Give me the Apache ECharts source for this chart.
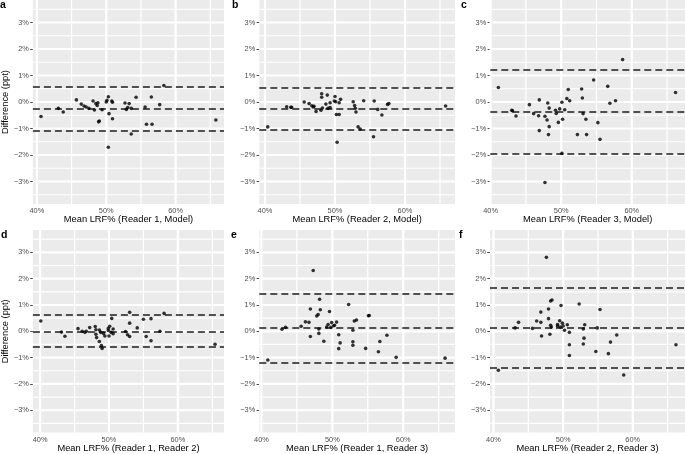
<!DOCTYPE html>
<html><head><meta charset="utf-8">
<script src="https://cdn.jsdelivr.net/npm/echarts@6/dist/echarts.min.js"></script>
<style>html,body{margin:0;padding:0;background:#fff}#c{width:685px;height:454px}</style>
</head><body><div id="c"></div><script>
// ---- data ----
const panelLetters = ['a', 'b', 'c', 'd', 'e', 'f'];
const xTitles = ['Mean LRF% (Reader 1, Model)', 'Mean LRF% (Reader 2, Model)', 'Mean LRF% (Reader 3, Model)',
                 'Mean LRF% (Reader 1, Reader 2)', 'Mean LRF% (Reader 1, Reader 3)', 'Mean LRF% (Reader 2, Reader 3)'];
const yTitle = 'Difference (ppt)';
const xTicks = [40, 50, 60];
const xMinor = [45, 55, 65];
const yTicks = [-3, -2, -1, 0, 1, 2, 3];
const yMinor = [-3.5, -2.5, -1.5, -0.5, 0.5, 1.5, 2.5, 3.5];

const aX = [40.6,43.1,43.8,45.7,46.4,46.8,47.1,47.5,48.1,48.3,48.5,48.8,48.7,49.0,48.9,49.4,50.0,50.1,50.3,50.4,50.8,50.9,50.9,50.3,52.7,52.9,53.1,53.3,53.6,53.6,54.3,55.6,55.8,56.5,56.6,57.7,58.3,65.8];
const aY = [-0.55,-0.24,-0.38,0.08,-0.08,-0.15,-0.19,-0.24,0.04,-0.30,-0.06,-0.03,-0.13,-0.72,-0.75,-0.29,0.0,0.06,0.20,-0.44,0.04,-0.01,-0.63,-1.71,-0.04,-0.28,-0.21,-0.06,-0.24,-1.21,0.18,-0.19,-0.84,0.19,-0.84,-0.10,0.62,-0.68];
const aLines = [0.57, -0.25, -1.07];

const bX = [40.4,43.1,43.7,43.8,45.6,46.3,46.7,46.9,47.0,47.3,48.1,48.1,48.0,48.2,48.7,48.9,49.0,49.3,49.3,49.9,50.0,50.2,50.6,50.8,50.1,50.6,50.3,52.6,52.8,52.9,53.0,53.3,53.6,54.1,55.5,55.6,56.1,56.7,57.5,57.7,65.8];
const bY = [-0.94,-0.18,-0.20,-0.20,0.0,-0.06,-0.14,-0.19,-0.16,-0.36,0.31,0.18,-0.31,-0.23,-0.08,0.26,-0.24,-0.03,-0.21,0.04,0.21,-0.47,-0.47,0.10,0.01,-0.03,-1.52,0.01,-0.13,-0.24,-0.38,-0.94,-1.02,0.05,-1.31,0.04,-0.28,-0.49,-0.09,-0.06,-0.15];
const bLines = [0.54, -0.25, -1.03];

const cX = [41.1,43.0,43.1,43.6,45.5,46.1,46.8,46.9,46.9,47.7,48.0,48.1,48.3,48.3,48.2,47.7,49.2,49.3,49.6,49.8,50.1,50.2,50.1,50.5,50.8,51.0,51.2,52.3,52.9,53.0,53.1,53.5,53.6,54.6,55.2,55.5,56.6,56.9,57.7,58.7,66.2];
const cY = [0.55,-0.31,-0.33,-0.53,-0.10,-0.44,-0.52,0.08,-1.08,-0.54,-0.68,-0.04,-0.23,-0.93,-1.23,-3.04,-0.31,-0.43,-0.77,-0.26,-0.01,-0.65,-1.94,-0.29,0.13,0.47,0.05,-1.23,0.49,0.15,-0.44,-0.65,-1.23,0.83,-0.78,-1.41,0.59,-0.05,0.05,1.60,0.36];
const cLines = [1.20, -0.37, -1.94];

const dX = [40.1,43.1,43.6,45.5,46.1,46.5,46.7,47.2,48.0,48.1,48.1,48.2,48.6,48.8,48.6,48.9,49.0,49.2,49.4,49.9,50.0,50.1,50.3,50.4,50.6,50.6,49.9,52.4,52.7,53.0,53.0,53.0,54.1,55.0,55.4,56.1,56.1,57.4,58.0,65.4];
const dY = [0.39,-0.03,-0.19,0.10,0.0,-0.04,0.0,0.14,0.18,0.06,-0.11,-0.24,0.05,-0.04,-0.39,-0.54,-0.65,-0.08,-0.18,0.03,-0.18,0.19,-0.04,0.49,0.09,-0.09,0.11,-0.01,-0.13,-0.20,0.31,0.72,0.13,0.46,-0.20,0.48,-0.36,0.0,0.68,-0.49];
const dLines = [0.61, 0.0, -0.59];

const eX = [40.9,42.9,43.4,45.6,46.2,46.7,46.9,46.9,47.3,47.8,48.0,48.2,48.3,48.1,48.1,48.8,49.2,49.4,49.6,49.8,49.9,50.2,50.3,50.6,50.9,51.1,50.9,52.3,52.9,52.9,52.9,53.1,53.4,54.7,55.1,55.2,56.5,56.7,57.7,59.0,65.9];
const eY = [-1.09,0.08,0.15,0.19,0.36,0.34,0.85,-0.20,2.31,0.58,0.64,1.22,0.82,0.09,-0.08,-0.38,0.16,0.26,0.75,0.15,0.33,0.21,0.23,0.35,-0.13,-0.44,-0.66,1.02,0.04,-0.40,-0.53,0.39,0.43,-0.65,0.59,0.60,-0.78,-0.39,-0.15,-0.99,-1.02];
const eLines = [1.43, 0.125, -1.18];

const fX = [40.7,43.1,43.6,45.6,46.2,46.8,46.8,46.9,47.6,47.9,47.9,48.2,48.4,48.2,48.3,48.1,49.2,49.2,49.5,49.7,49.6,49.9,50.0,50.2,50.6,50.9,50.9,50.9,52.3,52.9,53.1,53.0,52.9,54.7,54.9,55.3,56.5,56.8,57.7,58.7,66.2];
const fY = [-1.48,0.13,0.34,0.11,0.39,0.34,0.73,-0.18,2.81,0.85,0.48,1.15,1.19,0.23,0.16,-0.11,0.26,0.20,0.40,0.98,0.16,0.31,0.20,0.04,0.25,-0.04,-0.51,-0.92,1.04,0.09,0.25,-0.26,-0.48,-0.77,0.13,0.83,-0.85,-0.41,-0.14,-1.66,-0.51];
const fLines = [1.64, 0.13, -1.37];

// ---- layout / style ----
const panels = [
  {X: aX, Y: aY, L: aLines, xr: [39.43, 66.97], g: {left: 29.3, top: 0, width: 194.7, height: 204}},
  {X: bX, Y: bY, L: bLines, xr: [39.19, 67.14], g: {left: 259.3, top: 0, width: 195.7, height: 204}},
  {X: cX, Y: cY, L: cLines, xr: [39.96, 67.54], g: {left: 490.3, top: 0, width: 194.7, height: 204}},
  {X: dX, Y: dY, L: dLines, xr: [38.95, 66.70], g: {left: 29.3, top: 230, width: 194.7, height: 204.5}},
  {X: eX, Y: eY, L: eLines, xr: [39.70, 67.30], g: {left: 259.3, top: 230, width: 195.7, height: 204.5}},
  {X: fX, Y: fY, L: fLines, xr: [39.50, 67.50], g: {left: 490.0, top: 230, width: 195.0, height: 204.5}}
];
const letterPos = [[0, 0], [232, 0], [461, 0], [1, 230], [231, 230], [459, 230]];
const FONT = 'Liberation Sans, Arial, Helvetica, sans-serif';
const YR = [-3.85, 3.85];
const MAJOR_W = 2.2, MINOR_W = 1.2;
const pct = v => (v < 0 ? '\u2212' + Math.abs(v) : '' + v) + '%';

const option = {
  animation: false,
  textStyle: {fontFamily: FONT},
  title: panelLetters.map((t, i) => ({
    text: t, left: letterPos[i][0], top: letterPos[i][1], padding: 0,
    textStyle: {fontSize: 10.5, fontWeight: 'bold', color: '#000', fontFamily: FONT}
  })),
  grid: panels.map(p => Object.assign({show: true, z: 0, backgroundColor: '#EBEBEB', borderWidth: 0, containLabel: false}, p.g)),
  xAxis: panels.map((p, i) => ({
    type: 'value', gridIndex: i, min: p.xr[0], max: p.xr[1],
    name: xTitles[i], nameLocation: 'middle', nameGap: 10,
    nameTextStyle: {fontSize: 9.3, color: '#000', fontFamily: FONT},
    axisLine: {show: false},
    axisTick: {show: true, length: 2.7, customValues: xTicks, lineStyle: {color: '#333', width: 0.9}},
    axisLabel: {customValues: xTicks, formatter: pct, fontSize: 7.4, color: '#4D4D4D', margin: 3.5, fontFamily: FONT},
    splitLine: {show: false}
  })),
  yAxis: panels.map((p, i) => ({
    type: 'value', gridIndex: i, min: YR[0], max: YR[1],
    name: (i % 3 === 0) ? yTitle : '', nameLocation: 'middle', nameGap: 20,
    nameTextStyle: {fontSize: 9.3, color: '#000', fontFamily: FONT},
    axisLine: {show: false},
    axisTick: {show: true, length: 2.7, customValues: yTicks, lineStyle: {color: '#333', width: 0.9}},
    axisLabel: {customValues: yTicks, formatter: pct, fontSize: 7.4, color: '#4D4D4D', margin: 4, fontFamily: FONT},
    splitLine: {show: false}
  })),
  series: []
};

function addGridLine(i, p, axis, v, w) {
  const data = axis === 'x' ? [[v, YR[0]], [v, YR[1]]] : [[p.xr[0], v], [p.xr[1], v]];
  option.series.push({
    type: 'line', xAxisIndex: i, yAxisIndex: i, z: 1, silent: true, symbol: 'none',
    clip: true, data: data, lineStyle: {color: '#FFFFFF', width: w, opacity: 1},
    emphasis: {disabled: true}
  });
}

panels.forEach((p, i) => {
  xMinor.forEach(v => { if (v > p.xr[0] && v < p.xr[1]) addGridLine(i, p, 'x', v, MINOR_W); });
  yMinor.forEach(v => addGridLine(i, p, 'y', v, MINOR_W));
  xTicks.forEach(v => { if (v > p.xr[0] && v < p.xr[1]) addGridLine(i, p, 'x', v, MAJOR_W); });
  yTicks.forEach(v => addGridLine(i, p, 'y', v, MAJOR_W));
  option.series.push({
    type: 'scatter', xAxisIndex: i, yAxisIndex: i, z: 5, silent: true,
    symbol: 'circle', symbolSize: 3.6, itemStyle: {color: '#000'},
    data: p.X.map((x, k) => [x, p.Y[k]]),
    markLine: {silent: true, symbol: 'none', animation: false, label: {show: false},
      lineStyle: {color: '#1e1e1e', width: 1.6, type: [7, 4]},
      data: p.L.map(v => ({yAxis: v}))}
  });
});

const chart = echarts.init(document.getElementById('c'), null, {renderer: 'canvas'});
chart.setOption(option);
</script></body></html>
